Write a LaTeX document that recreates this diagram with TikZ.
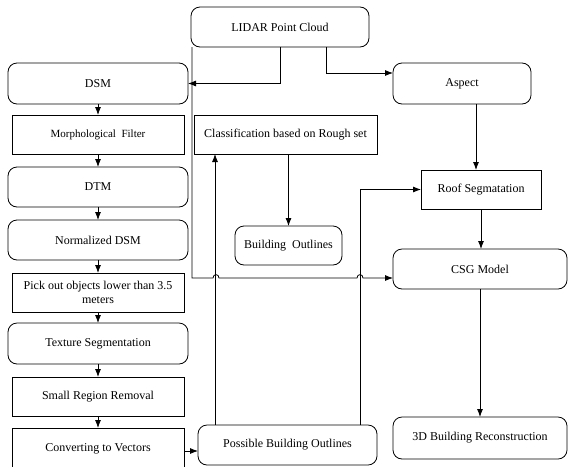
\documentclass[tikz,border=0pt]{standalone}
\usepackage{fontspec}
\setmainfont{Liberation Serif}
\usetikzlibrary{arrows.meta,calc}
\tikzset{
  base/.style={draw, line width=0.8pt, inner sep=0pt, outer sep=0pt, align=center,
    font=\fontsize{12}{13.5}\selectfont},
  rbox/.style={base, rounded corners=9pt},
  sbox/.style={base},
  arr/.style={line width=0.8pt, -{Latex[length=8pt,width=6pt]}},
  ln/.style={line width=0.8pt}
}
\begin{document}
\begin{tikzpicture}[x=1pt,y=-1pt]
\useasboundingbox (0,0) rectangle (569,466);
% left column
\node[rbox, minimum width=180pt, minimum height=41pt] (dsm) at (98,83.5) {DSM};
\node[sbox, minimum width=172pt, minimum height=39pt, font=\fontsize{11}{12}\selectfont] (morph) at (98,134.5) {Morphological\ \ Filter};
\node[rbox, minimum width=180pt, minimum height=40pt] (dtm) at (98,187) {DTM};
\node[rbox, minimum width=180pt, minimum height=40pt] (ndsm) at (98,240) {Normalized DSM};
\node[sbox, minimum width=172pt, minimum height=39pt] (pick) at (98,292.5) {Pick out objects lower than 3.5\\meters};
\node[rbox, minimum width=180pt, minimum height=41pt] (tex) at (98,343.5) {Texture Segmentation};
\node[sbox, minimum width=172pt, minimum height=39pt] (small) at (98,396.5) {Small Region Removal};
\node[sbox, minimum width=172pt, minimum height=42pt] (conv) at (98,449) {Converting to Vectors};
% middle
\node[rbox, minimum width=178pt, minimum height=40pt] (lidar) at (280,27) {LIDAR Point Cloud};
\node[sbox, minimum width=183pt, minimum height=39pt] (cls) at (285.5,134.5) {Classification based on Rough set};
\node[rbox, minimum width=107pt, minimum height=39pt] (bo) at (288.5,245.5) {Building\ \ Outlines};
\node[rbox, minimum width=179pt, minimum height=40pt] (poss) at (287.5,445) {Possible Building Outlines};
% right
\node[rbox, minimum width=138pt, minimum height=41pt] (aspect) at (462,83.5) {Aspect};
\node[sbox, minimum width=120pt, minimum height=39pt] (roof) at (481,189.5) {Roof Segmatation};
\node[rbox, minimum width=174pt, minimum height=40pt] (csg) at (480,269) {CSG Model};
\node[rbox, minimum width=174pt, minimum height=42pt] (rec) at (480,438) {3D Building Reconstruction};
\coordinate (pu) at (215,0);
\coordinate (pr) at (360,0);
% left column arrows
\draw[arr] (dsm.south) -- (morph.north);
\draw[arr] (morph.south) -- (dtm.north);
\draw[arr] (dtm.south) -- (ndsm.north);
\draw[arr] (ndsm.south) -- (pick.north);
\draw[arr] (pick.south) -- (tex.north);
\draw[arr] (tex.south) -- (small.north);
\draw[arr] (small.south) -- (conv.north);
\draw[arr] ([yshift=-2pt]conv.east) -- ([yshift=-2pt]conv.east -| poss.west);
% lidar connections
\draw[arr] (lidar.south) |- (dsm.east);
\draw[arr] ([xshift=46pt]lidar.south) |- ([yshift=10.5pt]aspect.west);
\draw[arr] ([xshift=1pt]lidar.south west) -- (192,278) -- (213,278)
  .. controls (213,273.5) and (219,273.5) .. (219,278) -- (357,278)
  .. controls (357,273.5) and (363,273.5) .. (363,278) -- ([yshift=-9pt]csg.west);
% others
\draw[arr] ([xshift=14pt]aspect.south) -- ([xshift=14pt]aspect.south |- roof.north);
\draw[arr] (roof.south) -- (roof.south |- csg.north);
\draw[arr] (csg.south) -- (rec.north);
\draw[arr] (bo.north |- cls.south) -- (bo.north);
\draw[arr] (poss.north -| pu) -- (cls.south -| pu);
\draw[arr] (poss.north -| pr) |- (roof.west);
\end{tikzpicture}
\end{document}
